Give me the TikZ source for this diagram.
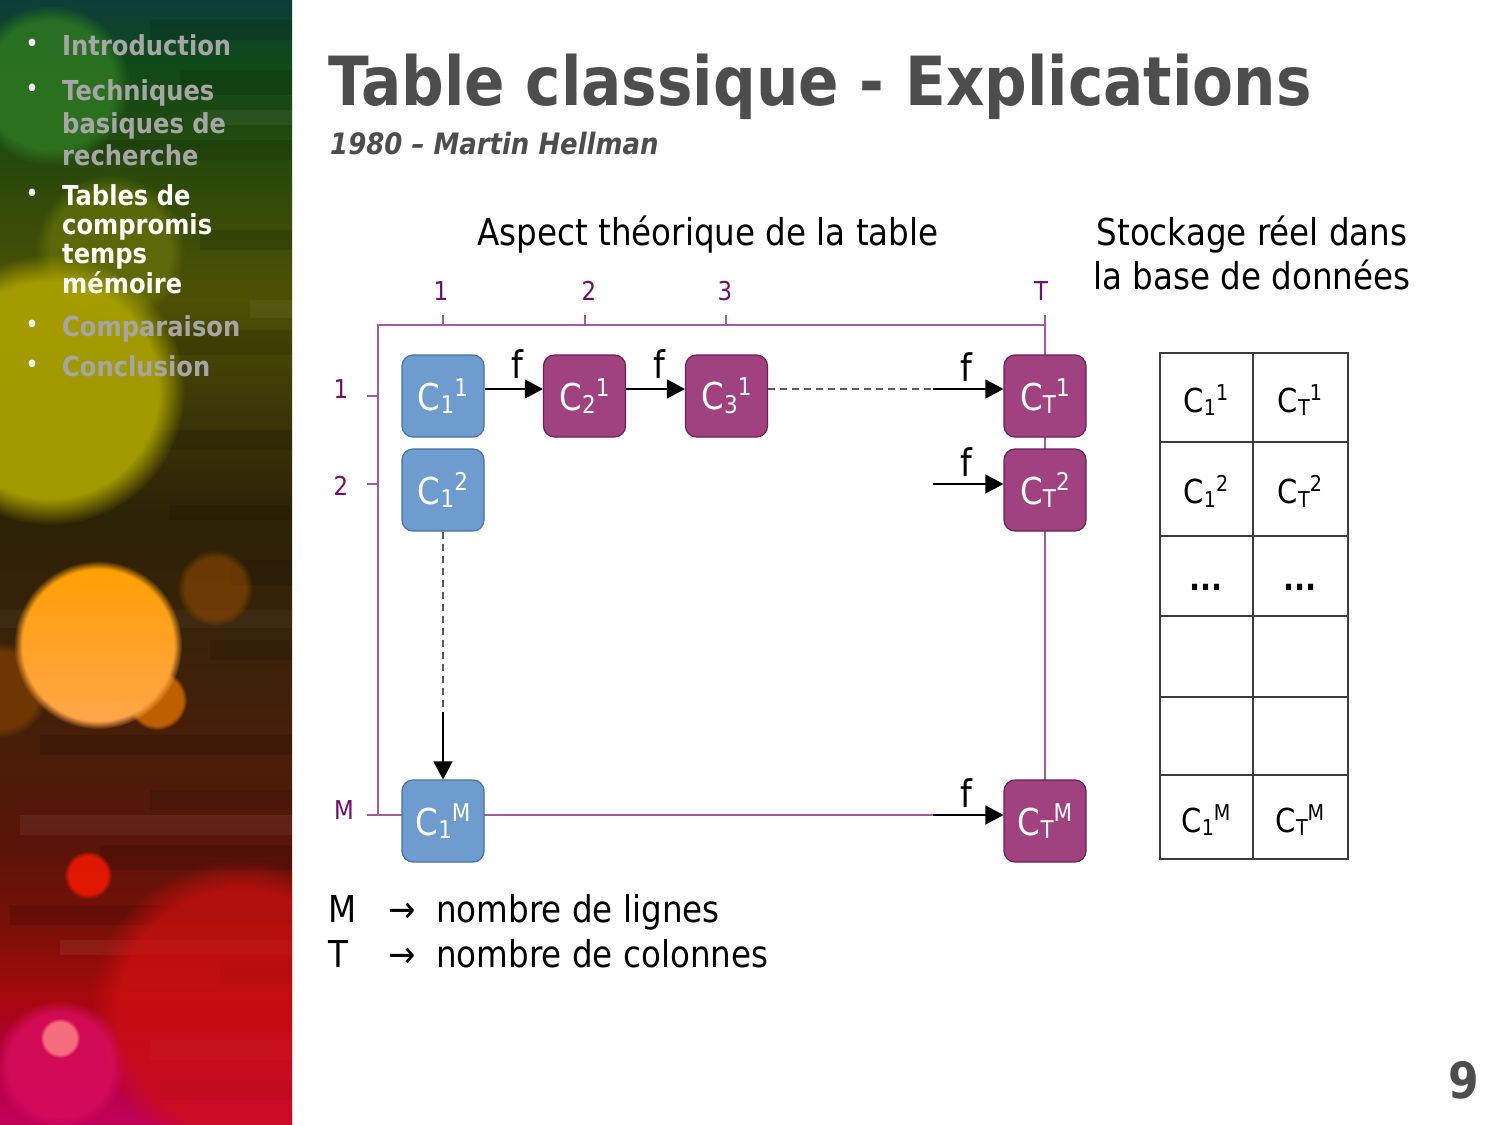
\documentclass[tikz,border=0pt]{standalone}
\usepackage{fontspec}
\usepackage{graphicx}
\setmainfont[FakeStretch=0.88]{DejaVu Sans}
\usetikzlibrary{arrows.meta,fadings,calc}

% palette
\definecolor{titlegray}{HTML}{4D4D4D}
\definecolor{navgray}{HTML}{A6A6A6}
\definecolor{labelpurple}{HTML}{6E0F6A}
\definecolor{framepurple}{HTML}{A25BA0}
\definecolor{boxblue}{HTML}{6E9CCF}
\definecolor{boxblueedge}{HTML}{44729F}
\definecolor{boxpink}{HTML}{9F427F}
\definecolor{boxpinkedge}{HTML}{6D1F57}
\definecolor{dashgray}{HTML}{5A5A5A}
\definecolor{gridgray}{HTML}{3C3C3C}
\definecolor{glowgreen}{HTML}{2F7A22}
\definecolor{glowyellow}{HTML}{A8A000}
\definecolor{glowolive}{HTML}{6E7A08}
\definecolor{glowred}{HTML}{D01010}
\definecolor{glowpink}{HTML}{D80C5C}

% sidebar background stops (top of bar at 75bp, bottom at 25bp)
\definecolor{sbA}{HTML}{0D3D3A}
\definecolor{sbB}{HTML}{0E4A18}
\definecolor{sbC}{HTML}{2C4A0A}
\definecolor{sbD}{HTML}{4E5004}
\definecolor{sbE}{HTML}{3A3406}
\definecolor{sbF}{HTML}{2C2206}
\definecolor{sbG}{HTML}{3A2208}
\definecolor{sbH}{HTML}{4A1E08}
\definecolor{sbI}{HTML}{5C1408}
\definecolor{sbJ}{HTML}{7A1008}
\definecolor{sbK}{HTML}{A8080C}
\definecolor{sbL}{HTML}{B00040}
\definecolor{sbM}{HTML}{C0005A}
\pgfdeclareverticalshading{sidebg}{100bp}{%
  color(0bp)=(sbM); color(25bp)=(sbM); color(27.9bp)=(sbL); color(30.6bp)=(sbK);
  color(33.7bp)=(sbJ); color(37.2bp)=(sbI); color(41.2bp)=(sbH); color(46.1bp)=(sbG);
  color(51.9bp)=(sbF); color(56.3bp)=(sbE); color(61.7bp)=(sbD); color(67bp)=(sbC);
  color(72.3bp)=(sbB); color(75bp)=(sbA); color(100bp)=(sbA)}

\newcommand\fsz[1]{\fontsize{#1}{#1}\selectfont}
% cell value C with a subscript and a superscript, set one after the other
\newcommand\Cv[2]{C\raisebox{-0.1em}{\scalebox{0.66}{#1}}\raisebox{0.38em}{\scalebox{0.66}{#2}}}

\begin{document}
\begin{tikzpicture}[x=1pt,y=-1pt,
  navitem/.style={anchor=base west, inner sep=0pt, font=\bfseries\fsz{27.5}, text=navgray},
  navbullet/.style={anchor=base, inner sep=0pt, font=\fsz{26}, text=white},
  frame/.style={draw=framepurple, line width=1.3pt},
  lbl/.style={text=labelpurple, font=\fsz{26}, inner sep=0pt},
  cellbox/.style={rounded corners=11pt, line width=1.2pt, minimum width=82pt,
    minimum height=82pt, text=white, font=\fsz{37}, inner sep=0pt},
  bluebox/.style={cellbox, fill=boxblue, draw=boxblueedge},
  pinkbox/.style={cellbox, fill=boxpink, draw=boxpinkedge},
  flow/.style={draw=black, line width=1.5pt, -{Triangle[length=18pt,width=19pt]}},
  dashline/.style={draw=dashgray, line width=1.3pt, dash pattern=on 7pt off 5pt},
  flab/.style={font=\fsz{38}, inner sep=0pt},
  grid/.style={draw=gridgray, line width=1.3pt},
  tcell/.style={font=\fsz{33}, inner sep=0pt},
  heading/.style={font=\fsz{37}, inner sep=0pt, align=center},
  legend/.style={font=\fsz{37}, inner sep=0pt, anchor=base west}]

\useasboundingbox (0,0) rectangle (1500,1125);
\fill[white] (0,0) rectangle (1500,1125);

% ---------- sidebar ----------
\begin{scope}
  \clip (0,0) rectangle (292,1125);
  \shade[shading=sidebg] (0,0) rectangle (292,1125);
  % horizontal streaks
  \foreach \ya/\yb/\xa/\op in {20/40/150/0.10, 70/95/180/0.12, 140/160/90/0.10,
      230/250/200/0.12, 330/355/120/0.10, 430/450/60/0.12, 505/520/170/0.10,
      560/585/230/0.12, 640/660/210/0.10, 735/755/40/0.14, 790/810/150/0.10,
      845/870/100/0.12, 905/925/10/0.12, 960/985/220/0.10, 1080/1100/160/0.10}
    \fill[black, opacity=\op] (\xa,\ya) rectangle (292,\yb);
  \foreach \ya/\yb/\xa/\op in {110/125/200/0.05, 300/318/250/0.05, 610/628/0/0.04,
      815/835/20/0.05, 940/955/60/0.06, 1040/1060/150/0.06}
    \fill[white, opacity=\op] (\xa,\ya) rectangle (292,\yb);
  % soft bokeh lights
  \fill[glowgreen, opacity=0.8, path fading=circle with fuzzy edge 20 percent]
    (50,85) circle[radius=80];
  \fill[glowolive, opacity=0.6, path fading=circle with fuzzy edge 20 percent]
    (110,250) circle[radius=75];
  \fill[glowyellow, opacity=0.95, path fading=circle with fuzzy edge 20 percent]
    (50,390) circle[radius=135];
  \fill[orange!60!black, opacity=0.55, path fading=circle with fuzzy edge 20 percent]
    (215,588) circle[radius=38];
  \fill[orange!55!black, opacity=0.6, path fading=circle with fuzzy edge 20 percent]
    (0,690) circle[radius=48];
  \fill[orange!80!black, opacity=0.9, path fading=circle with fuzzy edge 15 percent]
    (157,700) circle[radius=30];
  \shade[top color=orange!75!yellow, bottom color=orange!70!white,
    path fading=circle with fuzzy edge 10 percent] (98,645) circle[radius=84];
  \fill[red!80!orange, opacity=0.8, path fading=circle with fuzzy edge 20 percent]
    (88,875) circle[radius=24];
  \fill[glowred, opacity=0.7, path fading=circle with fuzzy edge 20 percent]
    (240,1010) circle[radius=150];
  \fill[glowpink, opacity=0.85, path fading=circle with fuzzy edge 20 percent]
    (60,1065) circle[radius=65];
  \fill[pink!70!red, opacity=0.8, path fading=circle with fuzzy edge 20 percent]
    (60,1038) circle[radius=20];
\end{scope}

% navigation
\node[navbullet] (nb1) at (32,52) {•};
\node[navitem] (n1) at (62,55) {Introduction};
\node[navbullet] (nb2) at (32,97) {•};
\node[navitem] (n2a) at (62,100) {Techniques};
\node[navitem] (n2b) at (62,133) {basiques de};
\node[navitem] (n2c) at (62,165) {recherche};
\node[navbullet] (nb3) at (32,202) {•};
\node[navitem, text=white] (n3a) at (62,205) {Tables de};
\node[navitem, text=white] (n3b) at (62,234) {compromis};
\node[navitem, text=white] (n3c) at (62,263) {temps};
\node[navitem, text=white] (n3d) at (62,293) {mémoire};
\node[navbullet] (nb4) at (32,333) {•};
\node[navitem] (n4) at (62,336) {Comparaison};
\node[navbullet] (nb5) at (32,373) {•};
\node[navitem] (n5) at (62,376) {Conclusion};

% ---------- title ----------
\node[anchor=base west, inner sep=0pt, font=\bfseries\fsz{67.8}, text=titlegray]
  (title) at (328,105) {Table classique - Explications};
\node[anchor=base west, inner sep=0pt, font=\bfseries\itshape\fsz{29.5}, text=titlegray]
  (subtitle) at (330,154) {1980 – Martin Hellman};

% ---------- headings ----------
\node[heading, anchor=base] (hTheo) at (708,245) {Aspect théorique de la table};
\node[heading, anchor=base] (hStoreA) at (1252,245) {Stockage réel dans};
\node[heading, anchor=base] (hStoreB) at (1252,289) {la base de données};

% ---------- axes ----------
\node[lbl] (col1) at (441,291) {1};
\node[lbl] (col2) at (589,291) {2};
\node[lbl] (col3) at (725,291) {3};
\node[lbl] (colT) at (1041,291) {T};
\node[lbl] (row1) at (341,389) {1};
\node[lbl] (row2) at (341,486) {2};
\node[lbl] (rowM) at (344,810) {M};

\coordinate (fTL) at (378,325);
\coordinate (fTR) at (1045,325);
\coordinate (fBL) at (378,815);
\coordinate (tT) at (1045,315);
\coordinate (tB) at (1045,800);
\coordinate (mStart) at (367,815);
\coordinate (aM) at (933,815);
\draw[frame] (fBL) -- (fTL) -- (fTR);
\foreach \x in {443,585,726} \draw[frame] (\x,315) -- (\x,325);
\draw[frame] (367,396) -- (378,396);
\draw[frame] (367,484) -- (378,484);
% lines running behind the cells of the last column and the last row
\draw[frame] (tT) -- (tB);
\draw[frame] (mStart) -- (aM);

% ---------- chain cells ----------
\node[bluebox] (c11) at (443,396) {\Cv{1}{1}};
\node[pinkbox] (c21) at (584.5,396) {\Cv{2}{1}};
\node[pinkbox] (c31) at (726.5,396) {\Cv{3}{1}};
\node[pinkbox] (ct1) at (1045,396) {\Cv{T}{1}};
\node[bluebox] (c12) at (443,490) {\Cv{1}{2}};
\node[pinkbox] (ct2) at (1045,490) {\Cv{T}{2}};
\node[bluebox] (c1m) at (443,821) {\Cv{1}{M}};
\node[pinkbox] (ctm) at (1045,821) {\Cv{T}{M}};

% ---------- chain steps ----------
\coordinate (d1) at (933,389);
\coordinate (a2) at (933,484);
\coordinate (dv) at (443,712);
\draw[flow] ([yshift=7pt]c11.east) -- ([yshift=7pt]c21.west);
\draw[flow] ([yshift=7pt]c21.east) -- ([yshift=7pt]c31.west);
\draw[dashline] ([yshift=7pt]c31.east) -- (d1);
\draw[flow] (d1) -- ([yshift=7pt]ct1.west);
\draw[flow] (a2) -- ([yshift=6pt]ct2.west);
\draw[flow] (aM) -- ([yshift=6pt]ctm.west);
\draw[dashline] (c12.south) -- (dv);
\draw[flow] (dv) -- (c1m.north);

\node[flab] (f1) at (517,364) {f};
\node[flab] (f2) at (659,364) {f};
\node[flab] (f3) at (966,367) {f};
\node[flab] (f4) at (966,462) {f};
\node[flab] (f5) at (966,793) {f};

% ---------- stored table ----------
\draw[grid] (1160,353) rectangle (1348,859);
\draw[grid] (1253,353) -- (1253,859);
\foreach \y in {442,536,616,697,775} \draw[grid] (1160,\y) -- (1348,\y);
\node[tcell] (s11) at (1206,400) {\Cv{1}{1}};
\node[tcell] (sT1) at (1300,400) {\Cv{T}{1}};
\node[tcell] (s12) at (1206,491) {\Cv{1}{2}};
\node[tcell] (sT2) at (1300,491) {\Cv{T}{2}};
\node[tcell, font=\bfseries\fsz{33}] (sd1) at (1206,587) {...};
\node[tcell, font=\bfseries\fsz{33}] (sd2) at (1300,587) {...};
\node[tcell] (s1M) at (1206,820) {\Cv{1}{M}};
\node[tcell] (sTM) at (1300,820) {\Cv{T}{M}};

% ---------- legend ----------
\node[legend] (lgM) at (328,922) {M};
\node[legend] (lgMa) at (388,922) {→};
\node[legend] (lgMt) at (436,922) {nombre de lignes};
\node[legend] (lgT) at (328,967) {T};
\node[legend] (lgTa) at (388,967) {→};
\node[legend] (lgTt) at (436,967) {nombre de colonnes};

% page number
\node[anchor=base east, inner sep=0pt, font=\bfseries\fsz{50}, text=titlegray]
  (pnum) at (1479,1098) {9};
\end{tikzpicture}
\end{document}
